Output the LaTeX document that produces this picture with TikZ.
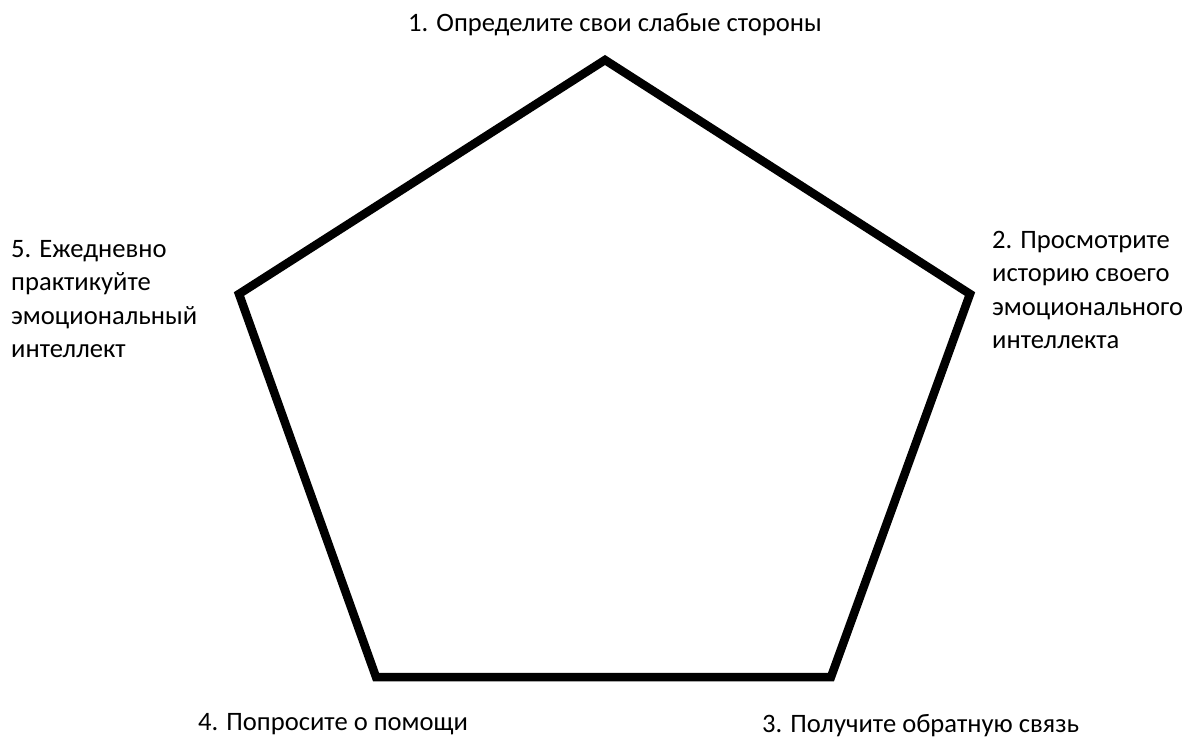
\documentclass[tikz,border=0pt]{standalone}
\usepackage{fontspec}
\setmainfont{Carlito}
\usetikzlibrary{positioning}

\begin{document}
\begin{tikzpicture}[x=1pt,y=-1pt,
  lbl/.style={inner sep=0pt,anchor=base west,align=left,
    font=\fontsize{26.6}{33.5}\selectfont},
  edge/.style={line width=8.5pt,line join=miter}]
\useasboundingbox (0,0) rectangle (1189,744);
% corners of the pentagon
\coordinate (v1) at (605,60);
\coordinate (v2) at (970,294);
\coordinate (v3) at (831,677);
\coordinate (v4) at (376,677);
\coordinate (v5) at (239,294);
\draw[edge] (v1) -- (v2) -- (v3) -- (v4) -- (v5) -- cycle;
% step labels (base = last line)
\node[lbl] (s1) at (408,31) {1. Определите свои слабые стороны};
\node[lbl] (s2) at (992,348.5) {2. Просмотрите\\историю своего\\эмоционального\\интеллекта};
\node[lbl] (s3) at (762,732) {3. Получите обратную связь};
\node[lbl] (s4) at (198,730) {4. Попросите о помощи};
\node[lbl] (s5) at (11,357.5) {5. Ежедневно\\практикуйте\\эмоциональный\\интеллект};
\end{tikzpicture}
\end{document}
